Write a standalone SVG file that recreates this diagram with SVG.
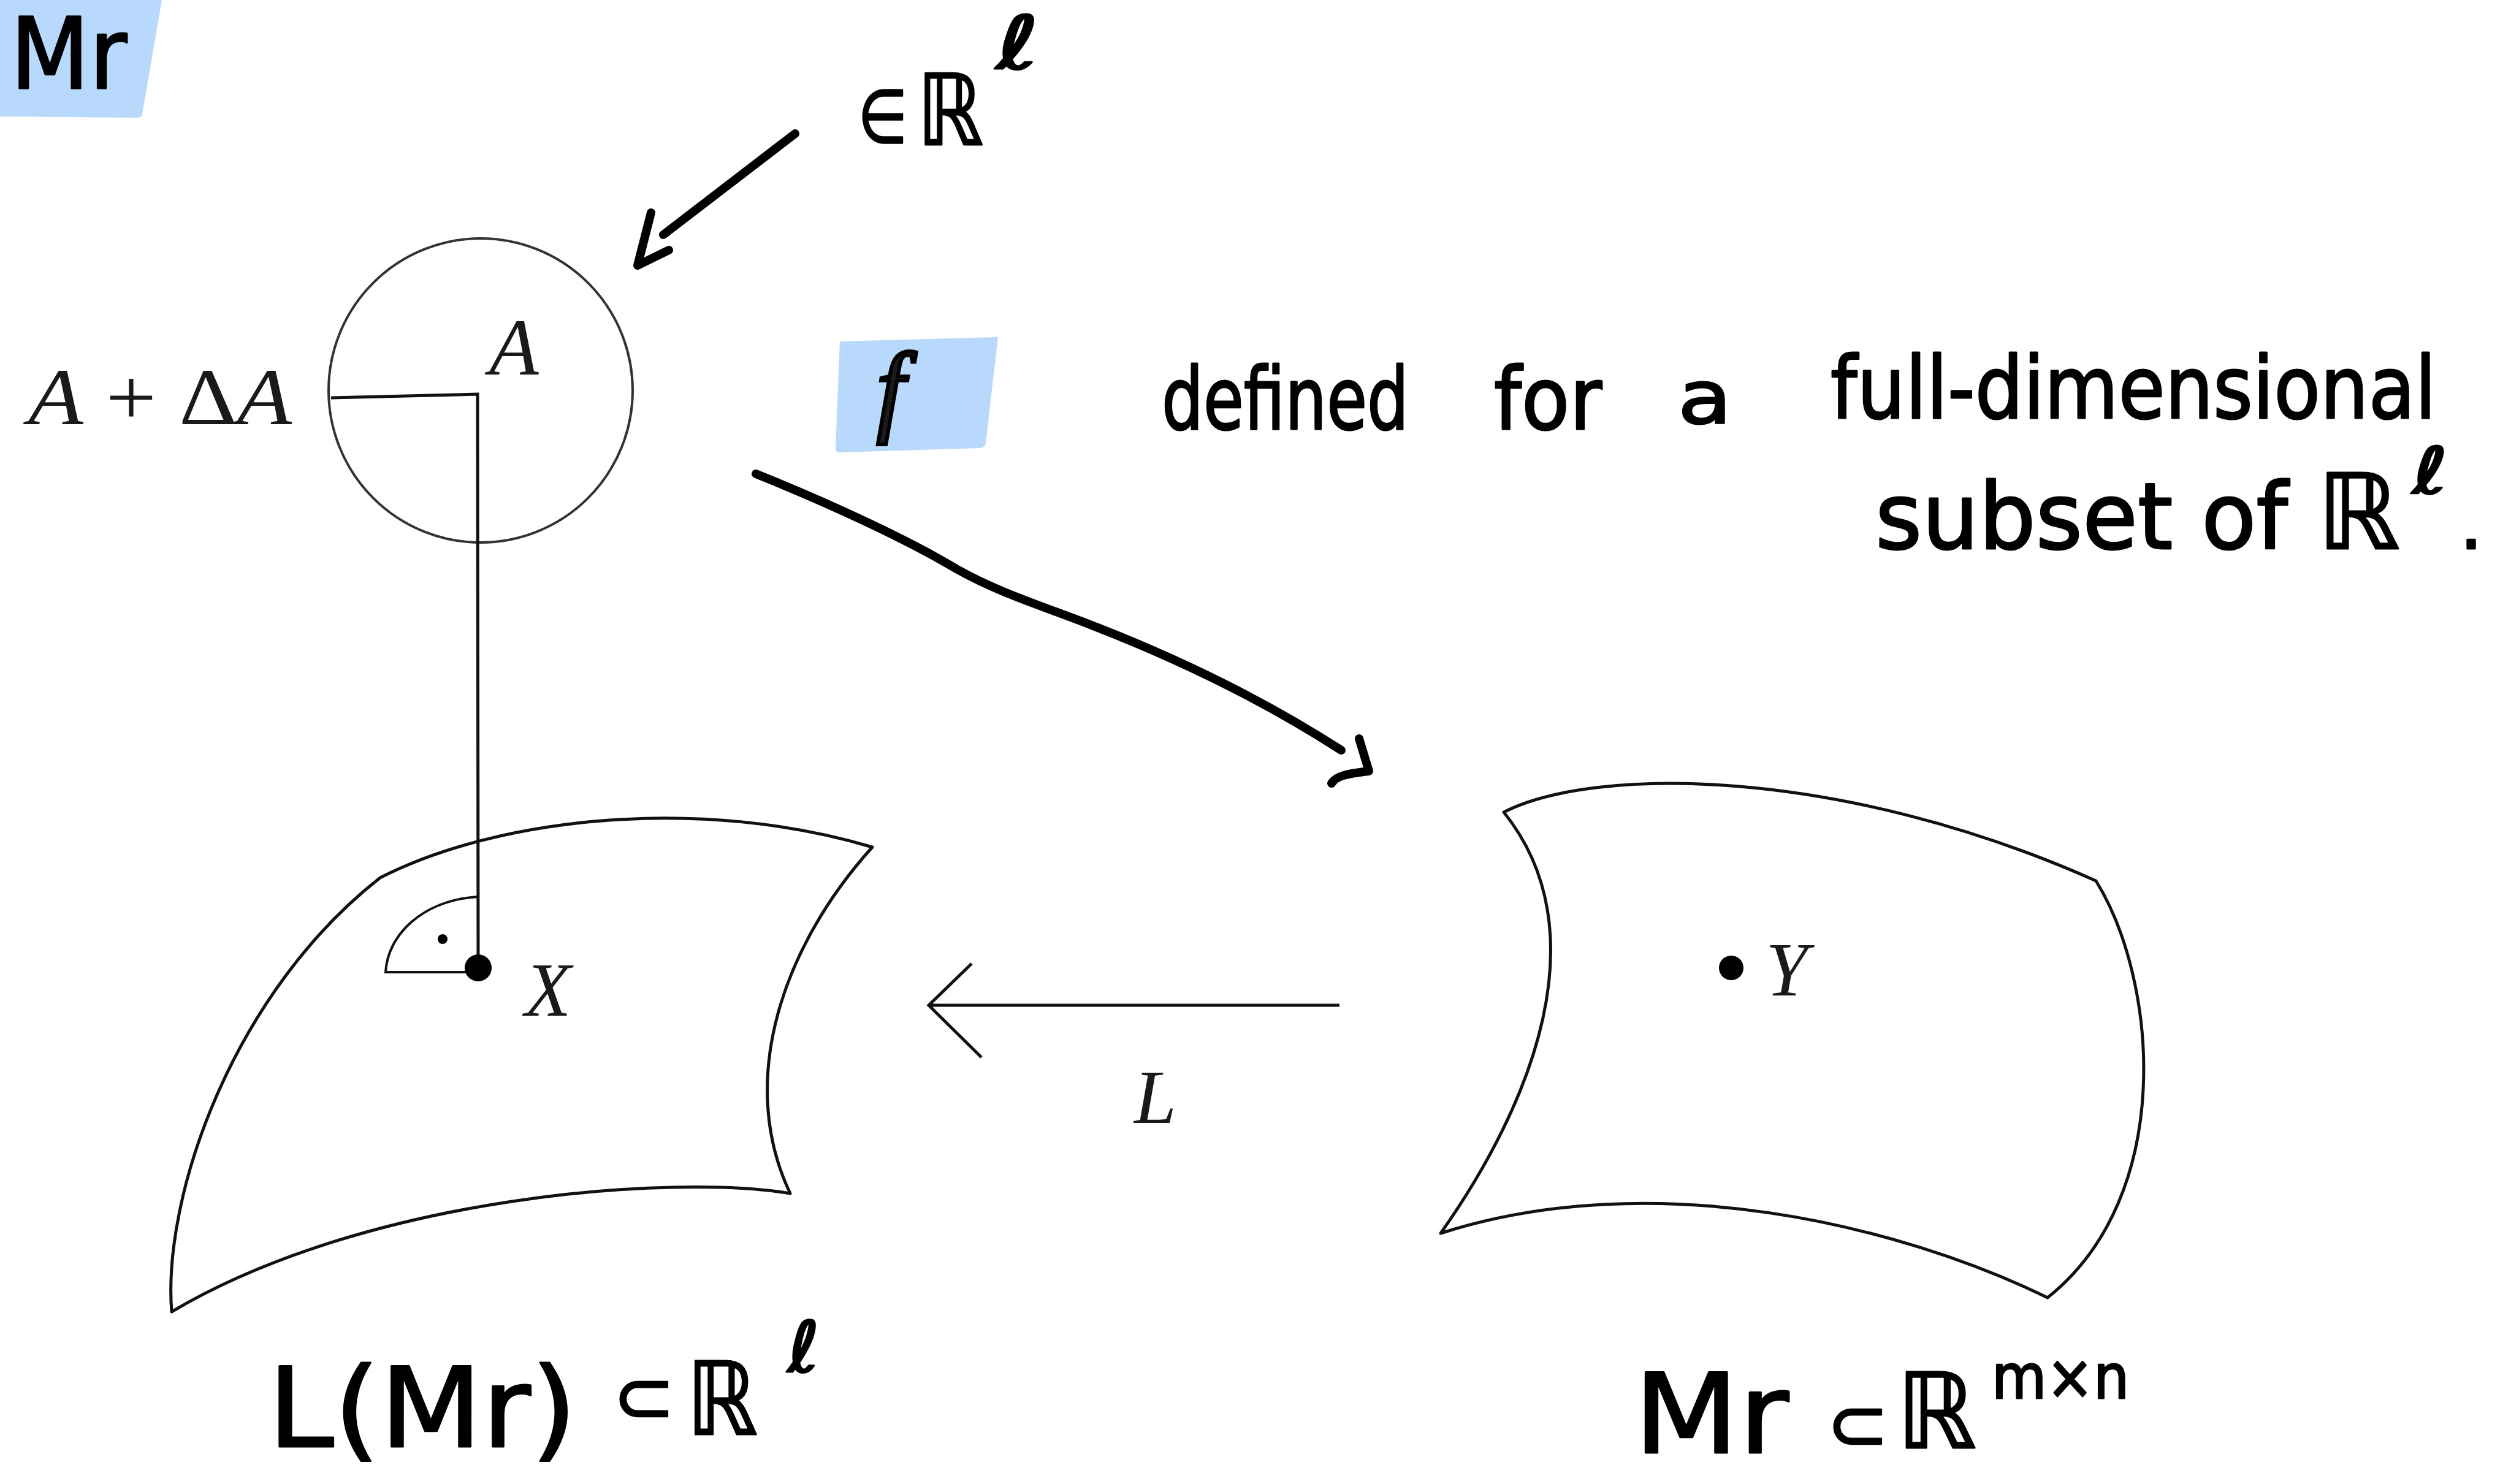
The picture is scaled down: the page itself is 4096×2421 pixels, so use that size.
<svg xmlns="http://www.w3.org/2000/svg" width="4096" height="2421" viewBox="0 0 4096 2421">
<style>
.hw{font-family:"DejaVu Sans","Noto Sans",sans-serif;fill:#000;stroke:#000;stroke-width:3;stroke-linejoin:round}
.tex{font-family:"Liberation Serif","DejaVu Serif",serif;fill:#1a1a1a}
.it{font-style:italic}
.ink{fill:none;stroke:#000;stroke-width:14;stroke-linecap:round;stroke-linejoin:round}
.edge{fill:none;stroke:#111;stroke-width:5;stroke-linejoin:round}
.hl{fill:#b8d8fc}
</style>
<rect width="4096" height="2421" fill="#fff"/>

<g id="label-Mr-top">
<path class="hl" d="M0,0 L264,0 L232,186 Q231,192 224,192 L0,190 Z"/>
<text class="hw" x="17" y="144" font-size="160" textLength="190" lengthAdjust="spacingAndGlyphs">Mr</text>
</g>

<g id="label-in-R">
<text class="hw" x="1400" y="232" font-size="120" textLength="80" lengthAdjust="spacingAndGlyphs">∈</text>
<text class="hw" x="1496" y="236" font-size="160" textLength="108" lengthAdjust="spacingAndGlyphs">ℝ</text>
<text class="hw" x="1625" y="112" font-size="120" textLength="70" lengthAdjust="spacingAndGlyphs">ℓ</text>
</g>

<g id="node-A">
<circle cx="784" cy="637" r="248" fill="none" stroke="#333" stroke-width="4"/>
<path d="M540,649 L779,643 L780,1579" fill="none" stroke="#111" stroke-width="5"/>
<text class="tex it" x="798" y="611" font-size="132">A</text>
<text class="tex" x="46" y="692" font-size="132" textLength="430" lengthAdjust="spacingAndGlyphs"><tspan class="it">A</tspan> + Δ<tspan class="it">A</tspan></text>
</g>

<g id="label-f">
<path class="hl" d="M1370,557 L1628,550 L1608,722 Q1607,731 1598,731 L1370,738 Q1362,738 1363,730 Z"/>
<text class="tex it" x="1430" y="690" font-size="165" stroke="#000" stroke-width="6" fill="#000">f</text>
</g>

<g id="note">
<text class="hw" x="1895" y="700" font-size="140" textLength="403" lengthAdjust="spacingAndGlyphs">defined</text>
<text class="hw" x="2437" y="700" font-size="140" textLength="176" lengthAdjust="spacingAndGlyphs">for</text>
<text class="hw" x="2737" y="690" font-size="120" textLength="88" lengthAdjust="spacingAndGlyphs">a</text>
<text class="hw" x="2986" y="682" font-size="140" textLength="988" lengthAdjust="spacingAndGlyphs">full-dimensional</text>
<text class="hw" x="3059" y="895" font-size="150" textLength="673" lengthAdjust="spacingAndGlyphs">subset of</text>
<text class="hw" x="3780" y="895" font-size="170" textLength="135" lengthAdjust="spacingAndGlyphs">ℝ</text>
<text class="hw" x="3935" y="805" font-size="105" textLength="58" lengthAdjust="spacingAndGlyphs">ℓ</text>
<text class="hw" x="4012" y="895" font-size="120">.</text>
</g>

<g id="node-X-surface">
<path class="edge" d="M620,1432 C820,1330 1150,1300 1423,1382 C1280,1540 1200,1760 1289,1947 C1100,1915 600,1950 280,2140 C265,1950 380,1620 620,1432 Z"/>
<path d="M780,1586 L629,1586 C632,1525 690,1468 780,1463" fill="none" stroke="#111" stroke-width="4"/>
<circle cx="722" cy="1532" r="8" fill="#000"/>
<circle cx="780" cy="1579" r="22" fill="#000"/>
<text class="tex it" x="856" y="1657" font-size="124">X</text>
<text class="hw" x="437" y="2360" font-size="180" textLength="504" lengthAdjust="spacingAndGlyphs">L(Mr)</text>
<text class="hw" x="1000" y="2320" font-size="120">⊂</text>
<text class="hw" x="1120" y="2340" font-size="165" textLength="116" lengthAdjust="spacingAndGlyphs">ℝ</text>
<text class="hw" x="1285" y="2238" font-size="115" textLength="52" lengthAdjust="spacingAndGlyphs">ℓ</text>
</g>

<g id="node-Y-surface">
<path class="edge" d="M2453,1325 C2600,1250 3000,1250 3419,1437 C3520,1600 3550,1950 3340,2117 C3100,2000 2700,1900 2350,2012 C2500,1800 2610,1520 2453,1325 Z"/>
<circle cx="2824" cy="1579" r="20" fill="#000"/>
<text class="tex it" x="2880" y="1624" font-size="124">Y</text>
<text class="hw" x="2665" y="2370" font-size="180" textLength="253" lengthAdjust="spacingAndGlyphs">Mr</text>
<text class="hw" x="2980" y="2365" font-size="120">⊂</text>
<text class="hw" x="3094" y="2362" font-size="170" textLength="130" lengthAdjust="spacingAndGlyphs">ℝ</text>
<text class="hw" x="3249" y="2281" font-size="100" textLength="224" lengthAdjust="spacingAndGlyphs">m×n</text>
</g>

<g id="connectors">
<path class="ink" d="M1297,218 L1082,383"/>
<path class="ink" d="M1062,347 L1040,433 L1091,408"/>
<path class="ink" d="M1233,773 C1350,820 1480,880 1560,928 C1620,962 1680,982 1760,1012 C1900,1065 2050,1135 2188,1224"/>
<path class="ink" d="M2217,1205 L2233,1258 C2200,1262 2180,1265 2172,1278"/>
<path d="M2185,1640 L1515,1640 M1585,1572 L1515,1640 L1601,1725" fill="none" stroke="#111" stroke-width="5"/>
<text class="tex it" x="1850" y="1832" font-size="124">L</text>
</g>
</svg>
